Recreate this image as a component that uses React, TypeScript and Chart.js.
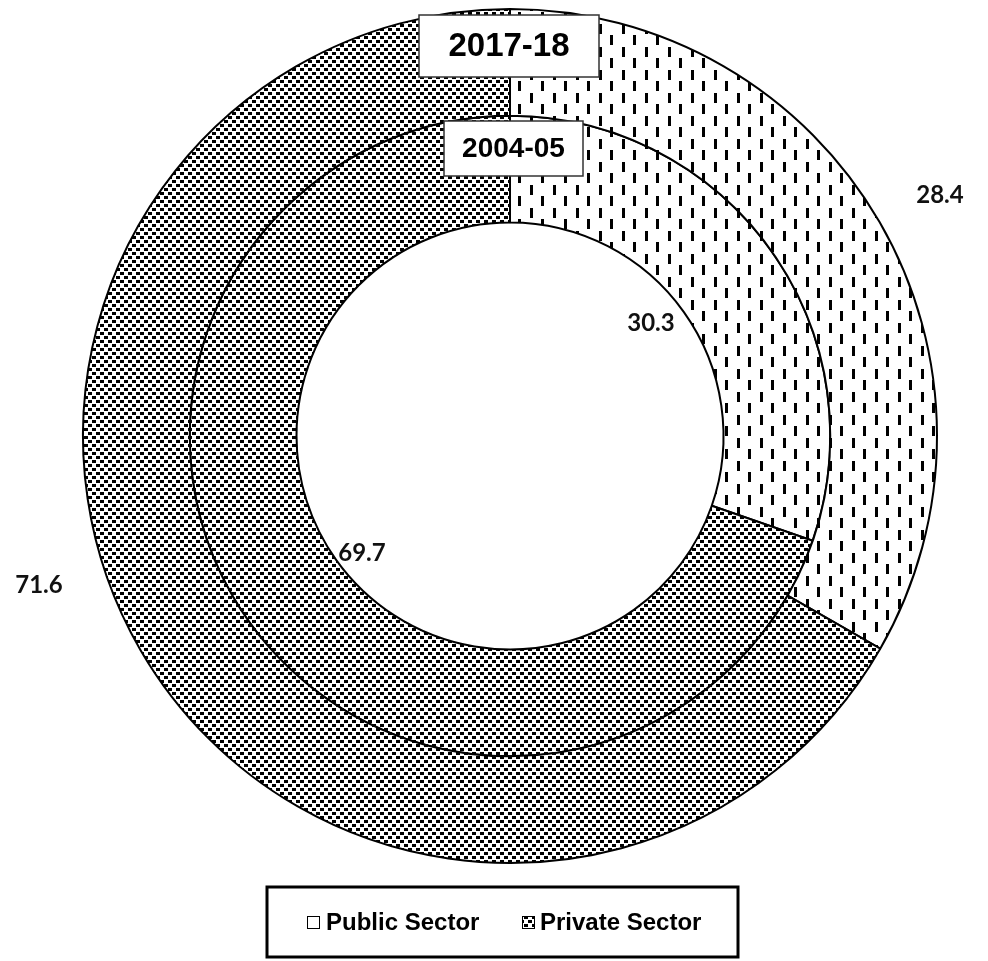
import React, { useEffect, useRef } from 'react';
import { Chart, registerables } from 'chart.js';
Chart.register(...registerables);

const categories = ['Public Sector', 'Private Sector'];
const years = ['2017-18', '2004-05'];
// slice sizes as drawn in the picture (outer ring = 2017-18, inner ring = 2004-05)
const values2017 = [33.3, 66.7];
const values2004 = [30.3, 69.7];
// data label texts as printed on the picture
const labels2017 = ['28.4', '71.6'];
const labels2004 = ['30.3', '69.7'];

// annotation layout (not data)
const valueLabelPos = [
  [[940, 195], [39, 585]],
  [[651, 323], [362, 553]],
];
const yearBoxes = [
  { x: 419, y: 15, w: 180, h: 62, font: 'bold 33px "Liberation Sans", Arial, sans-serif' },
  { x: 444, y: 121, w: 139, h: 55, font: 'bold 28px "Liberation Sans", Arial, sans-serif' },
];

function makeDashPattern(): CanvasPattern {
  const c = document.createElement('canvas');
  c.width = 23; c.height = 23;
  const g = c.getContext('2d')!;
  g.fillStyle = '#fff'; g.fillRect(0, 0, 23, 23);
  g.fillStyle = '#000';
  g.fillRect(1, 1, 3, 10);
  g.fillRect(12, 12, 3, 10);
  return g.createPattern(c, 'repeat')!;
}

function makeCheckPattern(): CanvasPattern {
  const c = document.createElement('canvas');
  c.width = 8; c.height = 8;
  const g = c.getContext('2d')!;
  g.fillStyle = '#fff'; g.fillRect(0, 0, 8, 8);
  g.fillStyle = '#000';
  g.fillRect(0, 0, 4, 3);
  g.fillRect(4, 4, 4, 3);
  return g.createPattern(c, 'repeat')!;
}

export default function App() {
  const ref = useRef<HTMLCanvasElement>(null);
  useEffect(() => {
    const canvas = ref.current!;
    const dash = makeDashPattern();
    const check = makeCheckPattern();
    const fills = [dash, check];
    const markerFills: (string | CanvasPattern)[] = ['#fff', check];

    const overlay = {
      id: 'overlay',
      afterDraw(chart: any) {
        const ctx = chart.ctx as CanvasRenderingContext2D;
        ctx.save();
        // value labels
        ctx.fillStyle = '#111';
        ctx.font = 'bold 24px Lato, "Open Sans", sans-serif';
        ctx.textAlign = 'center';
        ctx.textBaseline = 'middle';
        const sets = [labels2017, labels2004];
        sets.forEach((vals, di) => {
          vals.forEach((v, i) => {
            const [x, y] = valueLabelPos[di][i];
            ctx.fillText(v, x, y);
          });
        });
        // year boxes
        years.forEach((yr, i) => {
          const b = yearBoxes[i];
          ctx.fillStyle = '#fff';
          ctx.fillRect(b.x, b.y, b.w, b.h);
          ctx.strokeStyle = '#333';
          ctx.lineWidth = 1.5;
          ctx.strokeRect(b.x, b.y, b.w, b.h);
          ctx.fillStyle = '#000';
          ctx.font = b.font;
          ctx.fillText(yr, b.x + b.w / 2, b.y + b.h / 2 + 1);
        });
        // legend
        const lx = 267, ly = 887, lw = 471, lh = 70;
        ctx.fillStyle = '#fff';
        ctx.fillRect(lx, ly, lw, lh);
        ctx.strokeStyle = '#000';
        ctx.lineWidth = 3;
        ctx.strokeRect(lx, ly, lw, lh);
        ctx.font = 'bold 24px "Liberation Sans", Arial, sans-serif';
        ctx.textAlign = 'left';
        const items = [
          { mx: 307, tx: 326 },
          { mx: 522, tx: 540 },
        ];
        categories.forEach((c, i) => {
          const it = items[i];
          const my = ly + lh / 2 - 6;
          ctx.fillStyle = markerFills[i];
          ctx.fillRect(it.mx, my, 12, 12);
          ctx.strokeStyle = '#000';
          ctx.lineWidth = 1;
          ctx.strokeRect(it.mx + 0.5, my + 0.5, 12, 12);
          ctx.fillStyle = '#000';
          ctx.fillText(c, it.tx, ly + lh / 2 + 1);
        });
        ctx.restore();
      },
    };

    const chart = new Chart(canvas, {
      type: 'doughnut',
      data: {
        labels: categories,
        datasets: [
          { label: years[0], data: values2017, backgroundColor: fills, borderColor: '#000', borderWidth: 2 },
          { label: years[1], data: values2004, backgroundColor: fills, borderColor: '#000', borderWidth: 2 },
        ],
      },
      options: {
        responsive: false,
        maintainAspectRatio: false,
        animation: false,
        cutout: '50%',
        layout: { padding: { left: 82, right: 50, top: 8, bottom: 97 } },
        plugins: { legend: { display: false }, tooltip: { enabled: false } },
      },
      plugins: [overlay],
    });
    return () => chart.destroy();
  }, []);
  return (
    <div style={{ position: 'absolute', left: 0, top: 0, width: 988, height: 961, background: '#fff' }}>
      <canvas ref={ref} width={988} height={961} style={{ display: 'block' }} />
    </div>
  );
}
